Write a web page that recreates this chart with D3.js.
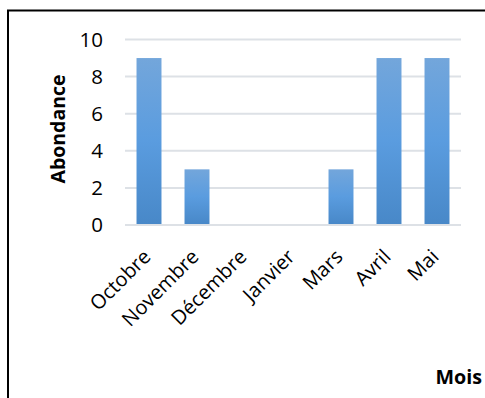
<!DOCTYPE html>
<html><head><meta charset="utf-8">
<script src="https://cdn.jsdelivr.net/npm/d3@7"></script>
<style>
body{margin:0;background:#fff;}
text{font-family:"Open Sans",sans-serif;}
</style></head>
<body>
<svg id="c" width="485" height="398"></svg>
<script>
const categories = ["Octobre","Novembre","Décembre","Janvier","Mars","Avril","Mai"];
const values = [9,3,0,0,3,9,9];
const yTicks = [0,2,4,6,8,10];
const yTitle = "Abondance";
const xTitle = "Mois";

const svg = d3.select("#c");
const defs = svg.append("defs");
const g = defs.append("linearGradient").attr("id","bg").attr("x1",0).attr("y1",0).attr("x2",0).attr("y2",1);
g.append("stop").attr("offset","0%").attr("stop-color","#73a6db");
g.append("stop").attr("offset","50%").attr("stop-color","#5a9cdf");
g.append("stop").attr("offset","100%").attr("stop-color","#4888c8");

// frame
svg.append("line").attr("x1",8).attr("x2",8).attr("y1",10).attr("y2",398).attr("stroke","#000").attr("stroke-width",2);
svg.append("line").attr("x1",7).attr("x2",485).attr("y1",10.5).attr("y2",10.5).attr("stroke","#000").attr("stroke-width",2);

const x = d3.scaleBand().domain(categories).range([125,461]).paddingInner(0.48).paddingOuter(0.24);
const y = d3.scaleLinear().domain([0,10]).range([225,39.5]);

// grid
svg.append("g").selectAll("line").data(yTicks).join("line")
  .attr("x1",125).attr("x2",461).attr("y1",d=>y(d)).attr("y2",d=>y(d))
  .attr("stroke","#dde1e6").attr("stroke-width",2);

// y axis labels
const ya = svg.append("g").attr("transform","translate(125,0)")
  .call(d3.axisLeft(y).tickValues(yTicks).tickSize(0).tickPadding(22));
ya.select(".domain").remove();
ya.selectAll("text").attr("font-size",20.5).attr("fill","#000").attr("font-family","Open Sans");

// bars
svg.append("g").selectAll("rect").data(values).join("rect")
  .attr("x",(d,i)=>x(categories[i]))
  .attr("width",x.bandwidth())
  .attr("y",d=>y(d))
  .attr("height",d=>y(0)-y(d)-1)
  .attr("fill","url(#bg)");

// x axis labels
const xa = svg.append("g").attr("transform","translate(0,225)")
  .call(d3.axisBottom(x).tickSize(0).tickPadding(0));
xa.select(".domain").remove();
xa.selectAll("text")
  .attr("font-size",20).attr("fill","#000").attr("font-family","Open Sans")
  .attr("text-anchor","end").attr("dy",null).attr("y",0)
  .attr("transform","translate(3,33) rotate(-45)");

svg.append("text").attr("transform","translate(65,129) rotate(-90)")
  .attr("text-anchor","middle").attr("font-weight","bold").attr("font-size",19.5).text(yTitle);
svg.append("text").attr("x",482).attr("y",384).attr("text-anchor","end")
  .attr("font-weight","bold").attr("font-size",19.7).text(xTitle);
</script>
</body></html>
